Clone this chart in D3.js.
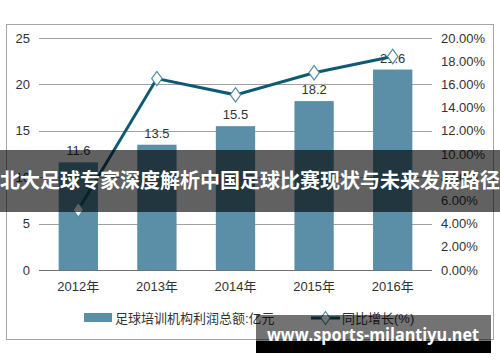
<!DOCTYPE html>
<html>
<head>
<meta charset="utf-8">
<script src="https://d3js.org/d3.v7.min.js"></script>
<style>
  body { margin: 0; background: #fff; }
  text { font-family: "Liberation Sans", Arial, "Noto Sans CJK SC", sans-serif; }
</style>
</head>
<body>
<div id="chart"></div>
<script>
  var years = ['2012年', '2013年', '2014年', '2015年', '2016年'];
  var profit = [11.6, 13.5, 15.5, 18.2, 21.6];
  var growth = [5.2, 16.5, 15.1, 17.0, 18.4];
  var leftTicks = [0, 5, 10, 15, 20, 25];
  var rightTicks = [0, 2, 4, 6, 8, 10, 12, 14, 16, 18, 20];
  var legendNames = ['足球培训机构利润总额:亿元', '同比增长(%)'];
  var title = '北大足球专家深度解析中国足球比赛现状与未来发展路径';
  var watermark = 'www.sports-milantiyu.net';

  var width = 500, height = 362;
  var barColor = '#5b8fa8', lineColor = '#0e5a72';

  var svg = d3.select('#chart').append('svg')
    .attr('width', width).attr('height', height);

  // outer frame
  svg.append('rect')
    .attr('x', 6.5).attr('y', 24.5)
    .attr('width', 487).attr('height', 315)
    .attr('fill', '#fff').attr('stroke', '#a6a6a6');

  var x = d3.scaleBand().domain(years).range([39, 432])
    .paddingInner(0.5).paddingOuter(0.25);
  var yL = d3.scaleLinear().domain([0, 25]).range([270, 38]);
  var yR = d3.scaleLinear().domain([0, 20]).range([270, 38]);

  // gridlines
  svg.append('g').selectAll('line')
    .data(leftTicks)
    .enter().append('line')
    .attr('x1', 39).attr('x2', 432)
    .attr('y1', function(d) { return Math.round(yL(d)) + 0.5; })
    .attr('y2', function(d) { return Math.round(yL(d)) + 0.5; })
    .attr('stroke', function(d) { return d === 0 ? '#707070' : '#a0a0a0'; })
    .attr('stroke-width', 1);

  // left axis
  var axL = svg.append('g').attr('transform', 'translate(30,0)')
    .call(d3.axisLeft(yL).tickValues(leftTicks).tickSize(0).tickPadding(0));
  axL.select('.domain').remove();
  axL.selectAll('text').attr('font-size', 13).attr('fill', '#333')
    .style('font-family', '"Liberation Sans", Arial, sans-serif');

  // right axis
  var axR = svg.append('g').attr('transform', 'translate(441,0)')
    .call(d3.axisRight(yR).tickValues(rightTicks).tickSize(0).tickPadding(0)
      .tickFormat(function(d) { return d.toFixed(2) + '%'; }));
  axR.select('.domain').remove();
  axR.selectAll('text').attr('font-size', 13).attr('fill', '#333')
    .style('font-family', '"Liberation Sans", Arial, sans-serif');

  // bottom axis
  var axB = svg.append('g').attr('transform', 'translate(0,270)')
    .call(d3.axisBottom(x).tickSize(0).tickPadding(12));
  axB.select('.domain').remove();
  axB.selectAll('text').attr('font-size', 13).attr('fill', '#333');

  // bars
  svg.append('g').selectAll('rect')
    .data(profit)
    .enter().append('rect')
    .attr('x', function(d, i) { return x(years[i]); })
    .attr('width', x.bandwidth())
    .attr('y', function(d) { return yL(d); })
    .attr('height', function(d) { return yL(0) - yL(d); })
    .attr('fill', barColor);

  // bar labels
  svg.append('g').selectAll('text')
    .data(profit)
    .enter().append('text')
    .attr('x', function(d, i) { return x(years[i]) + x.bandwidth() / 2; })
    .attr('y', function(d) { return yL(d) - 7; })
    .attr('text-anchor', 'middle')
    .attr('font-size', 13)
    .attr('fill', '#333')
    .text(function(d) { return d.toFixed(1); });

  // growth line
  var line = d3.line()
    .x(function(d, i) { return x(years[i]) + x.bandwidth() / 2; })
    .y(function(d) { return yR(d); });

  svg.append('path')
    .datum(growth)
    .attr('d', line)
    .attr('fill', 'none')
    .attr('stroke', lineColor)
    .attr('stroke-width', 3);

  var diamond = d3.symbol().type(d3.symbolDiamond).size(60);
  svg.append('g').selectAll('path')
    .data(growth)
    .enter().append('path')
    .attr('d', diamond)
    .attr('transform', function(d, i) {
      return 'translate(' + (x(years[i]) + x.bandwidth() / 2) + ',' + yR(d) + ') scale(1.25,1)';
    })
    .attr('fill', '#fff')
    .attr('stroke', '#4e8ba3')
    .attr('stroke-width', 1);

  // legend
  var lg = svg.append('g');
  lg.append('rect').attr('x', 84).attr('y', 313).attr('width', 28).attr('height', 9).attr('fill', barColor);
  lg.append('text').attr('x', 115).attr('y', 323).attr('font-size', 13).attr('fill', '#333')
    .text(legendNames[0]);
  lg.append('line').attr('x1', 311).attr('x2', 340).attr('y1', 318).attr('y2', 318)
    .attr('stroke', lineColor).attr('stroke-width', 3);
  lg.append('path').attr('d', diamond).attr('transform', 'translate(325.5,318) scale(1.1,0.9)')
    .attr('fill', '#fff').attr('stroke', '#4e8ba3');
  lg.append('text').attr('x', 342).attr('y', 323).attr('font-size', 13).attr('fill', '#333')
    .text(legendNames[1]);

  // title band overlay
  svg.append('rect').attr('x', 0).attr('y', 150).attr('width', width).attr('height', 62)
    .attr('fill', 'rgba(0,0,0,0.62)');
  svg.append('text').attr('x', 250).attr('y', 188)
    .attr('text-anchor', 'middle')
    .attr('font-size', 20).attr('font-weight', 'bold')
    .attr('fill', '#fff')
    .style('font-family', '"Noto Sans CJK SC", sans-serif')
    .text(title);

  // watermark
  svg.append('rect').attr('x', 256).attr('y', 315).attr('width', 235).attr('height', 26)
    .attr('fill', 'rgba(0,0,0,0.55)');
  svg.append('rect').attr('x', 256).attr('y', 341).attr('width', 235).attr('height', 12)
    .attr('fill', '#000');
  svg.append('text').attr('x', 267).attr('y', 341)
    .attr('font-size', 18).attr('font-weight', 'bold')
    .attr('fill', '#fff')
    .attr('textLength', 212).attr('lengthAdjust', 'spacingAndGlyphs')
    .style('font-family', '"Open Sans", "DejaVu Sans", sans-serif')
    .text(watermark);
</script>
</body>
</html>
